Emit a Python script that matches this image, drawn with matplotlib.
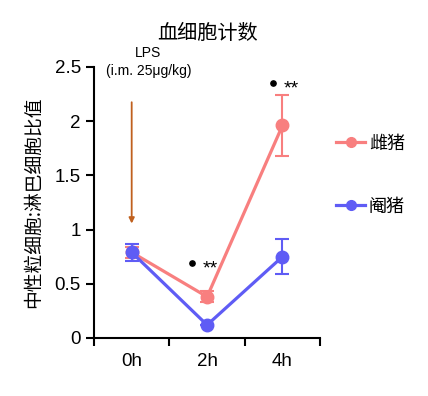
import matplotlib.pyplot as plt
from matplotlib.lines import Line2D

plt.rcParams['font.family'] = ['Liberation Sans', 'Noto Sans CJK SC', 'DejaVu Sans']
cjk = ['Noto Sans CJK SC', 'DejaVu Sans']

times = ['0h', '2h', '4h']
female = [0.79, 0.38, 1.96]
female_err = [0.05, 0.05, 0.28]
barrow = [0.79, 0.12, 0.75]
barrow_err = [0.08, 0.0, 0.16]
stars_y = [0.69, 2.35]

pink = '#F87F7F'
blue = '#5F5CF5'

fig = plt.figure(figsize=(4.28, 3.96), dpi=100)
ax = fig.add_axes([0.2196, 0.1465, 0.5285, 0.6845])

x = [0.5, 1.5, 2.5]
ax.errorbar(x, female, yerr=female_err, color=pink, lw=2.3, marker='o', ms=9,
            capsize=5, elinewidth=1.5, capthick=1.5, zorder=3)
ax.errorbar(x, barrow, yerr=barrow_err, color=blue, lw=2.3, marker='o', ms=9,
            capsize=5, elinewidth=1.5, capthick=1.5, zorder=4)

ax.set_xlim(0, 3)
ax.set_ylim(0, 2.5)
ax.set_xticks([0, 1, 2, 3])
ax.set_xticklabels([])
ax.set_xticks(x, minor=True)
ax.set_xticklabels(times, minor=True, fontsize=13.5)
ax.tick_params(axis='x', which='minor', length=0, pad=11)
ax.tick_params(axis='x', which='major', length=6, width=1.5, direction='out')
ax.set_yticks([0, 0.5, 1, 1.5, 2, 2.5])
ax.set_yticklabels(['0', '0.5', '1', '1.5', '2', '2.5'], fontsize=13.5)
ax.tick_params(axis='y', length=6, width=1.5, direction='out')
for s in ['top', 'right']:
    ax.spines[s].set_visible(False)
for s in ['left', 'bottom']:
    ax.spines[s].set_linewidth(1.5)

ax.set_ylabel('中性粒细胞:淋巴细胞比值', fontsize=13.5, family=cjk, labelpad=8)
ax.set_title('血细胞计数', fontsize=14.5, family=cjk, pad=20)

# LPS arrow
ax.annotate('', xy=(0.5, 1.03), xytext=(0.5, 2.2),
            arrowprops=dict(arrowstyle='-|>', color='#C0601E', lw=1.3, mutation_scale=8))
ax.text(0.72, 2.56, 'LPS', fontsize=10, ha='center', va='bottom', clip_on=False)
ax.text(0.72, 2.4, '(i.m. 25μg/kg)', fontsize=10, ha='center', va='bottom', clip_on=False)

# significance marks
for xi, yi in zip([1.3, 2.37], stars_y):
    ax.plot(xi, yi, 'o', color='black', ms=3.8, clip_on=False)
    ax.text(xi + 0.14, yi - 0.05, '**', fontsize=14, ha='left', va='center')

handles = [Line2D([], [], color=pink, lw=2.3, marker='o', ms=7),
           Line2D([], [], color=blue, lw=2.3, marker='o', ms=7)]
ax.legend(handles, ['雌猪', '阉猪'], loc='upper left', bbox_to_anchor=(1.0, 0.81),
          frameon=False, prop={'family': cjk, 'size': 13}, labelspacing=2.5,
          handlelength=1.6, handletextpad=0.2)

plt.savefig('out.png', dpi=100)
